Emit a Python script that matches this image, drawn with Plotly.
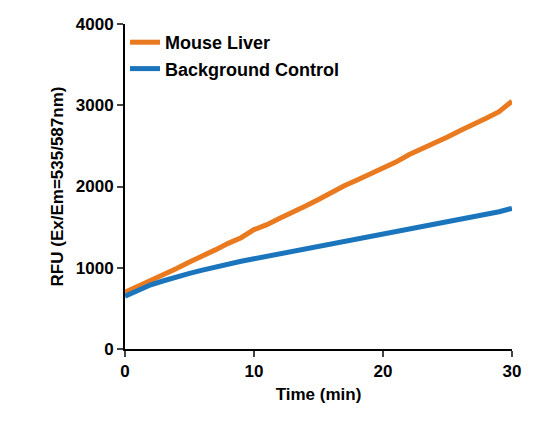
import plotly.graph_objects as go

time_min = list(range(31))
mouse_liver = [700, 770, 840, 910, 990, 1070, 1140, 1220, 1300, 1370, 1470, 1530, 1610, 1680, 1760,
               1840, 1930, 2010, 2080, 2150, 2230, 2300, 2390, 2460, 2530, 2610, 2690, 2760, 2840, 2920, 3050]
background = [650, 720, 790, 840, 890, 930, 970, 1010, 1050, 1080, 1110, 1140, 1180, 1210, 1230,
              1260, 1290, 1320, 1350, 1380, 1420, 1450, 1480, 1510, 1540, 1570, 1600, 1630, 1660, 1690, 1730]

orange = "#E97A1F"
blue = "#1B75BC"

fig = go.Figure()
fig.add_trace(go.Scatter(x=time_min, y=mouse_liver, mode="lines", name="Mouse Liver",
                         line=dict(color=orange, width=5)))
fig.add_trace(go.Scatter(x=time_min, y=background, mode="lines", name="Background Control",
                         line=dict(color=blue, width=5)))

axis_font = dict(family="Liberation Sans", size=17, color="black", weight="bold")
fig.update_layout(
    width=535, height=425,
    margin=dict(l=117, r=31, t=16, b=84),
    plot_bgcolor="white", paper_bgcolor="white",
    font=dict(family="Liberation Sans", color="black"),
    showlegend=True,
    legend=dict(x=0.0, y=1.0, xanchor="left", yanchor="top", bgcolor="rgba(0,0,0,0)",
                font=dict(family="Liberation Sans", size=18, color="black", weight="bold"),
                tracegroupgap=0),
    xaxis=dict(range=[0, 30], tickvals=[0, 10, 20, 30], showgrid=False, zeroline=False,
               showline=True, linecolor="black", linewidth=2, ticks="outside", ticklen=6,
               tickwidth=2, tickfont=axis_font, automargin=False,
               title=dict(text="Time (min)", font=axis_font, standoff=8)),
    yaxis=dict(range=[0, 4000], tickvals=[0, 1000, 2000, 3000, 4000], showgrid=False, zeroline=False,
               showline=True, linecolor="black", linewidth=2, ticks="outside", ticklen=6,
               tickwidth=2, tickfont=axis_font, automargin=False,
               title=dict(text="RFU (Ex/Em=535/587nm)", font=axis_font, standoff=8)),
)

fig.write_html("out.html")
